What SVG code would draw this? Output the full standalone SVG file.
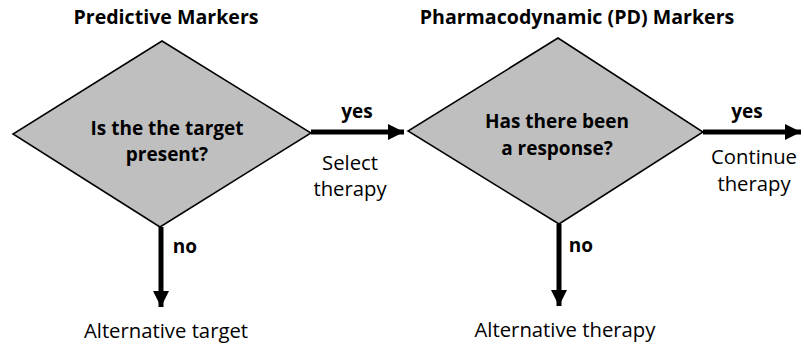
<svg xmlns="http://www.w3.org/2000/svg" width="804" height="352" viewBox="0 0 804 352">
<style>
text{font-family:"Open Sans","Liberation Sans",sans-serif;fill:#000;text-anchor:middle}
.h{font-size:19.6px;font-weight:bold}
.q{font-size:19px;font-weight:bold}
.l{font-size:20.3px}
.d{fill:#bfbfbf;stroke:#000;stroke-width:1.5}
.c{stroke:#000;stroke-width:5;fill:none}
</style>
<defs>
<marker id="ah" viewBox="0 0 10 10" refX="10" refY="5" markerWidth="3.4" markerHeight="3.2" orient="auto" markerUnits="strokeWidth">
<path d="M0,0 L10,5 L0,10 Z" fill="#000"/>
</marker>
</defs>
<text class="h" x="166" y="24">Predictive Markers</text>
<text class="h" x="577" y="24">Pharmacodynamic (PD) Markers</text>
<g id="n1">
<polygon class="d" points="162,41 311,133 160,227 13,134"/>
<text class="q" x="167" y="135">Is the the target</text>
<text class="q" x="167" y="161">present?</text>
</g>
<g id="n2">
<polygon class="d" points="558,38 703,132 559,224 408,131"/>
<text class="q" x="557" y="128">Has there been</text>
<text class="q" x="557" y="155">a response?</text>
</g>
<g id="connectors">
<line class="c" x1="311" y1="132" x2="404" y2="132" marker-end="url(#ah)"/>
<line class="c" x1="703" y1="132" x2="801" y2="132" marker-end="url(#ah)"/>
<line class="c" x1="161" y1="227" x2="161" y2="307" marker-end="url(#ah)"/>
<line class="c" x1="559" y1="224" x2="559" y2="306" marker-end="url(#ah)"/>
</g>
<text class="q" x="357" y="118">yes</text>
<text class="l" x="350" y="170">Select</text>
<text class="l" x="350" y="196">therapy</text>
<text class="q" x="747" y="118">yes</text>
<text class="l" x="754" y="164">Continue</text>
<text class="l" x="754" y="191">therapy</text>
<text class="q" x="185" y="253">no</text>
<text class="q" x="581" y="252">no</text>
<text class="l" x="166" y="338">Alternative target</text>
<text class="l" x="565" y="337">Alternative therapy</text>
</svg>
